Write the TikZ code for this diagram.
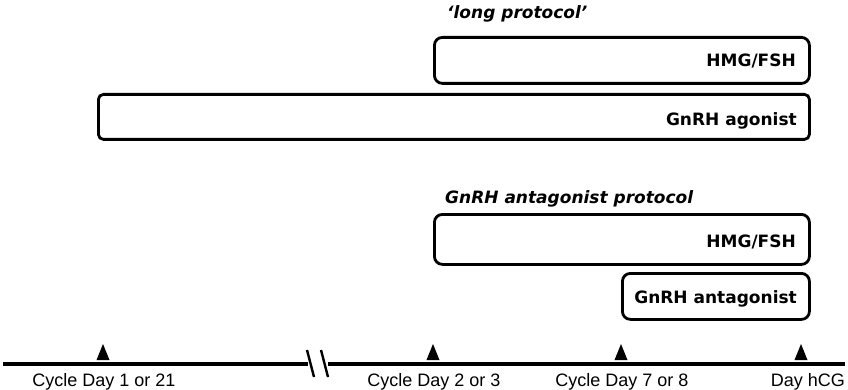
\documentclass[tikz,border=0pt]{standalone}
\usepackage{fontspec}
\setmainfont{DejaVu Sans}
\newfontfamily\axisfont{Liberation Sans}
\begin{document}
\begin{tikzpicture}[x=1pt,y=-1pt,
  box/.style={draw=black, line width=2.8pt, fill=white, anchor=north west, inner sep=0pt},
  boxlabel/.style={font=\fontsize{17}{20}\selectfont\bfseries, anchor=base east, inner sep=0pt},
  title/.style={font=\fontsize{17}{20}\selectfont\bfseries\itshape, anchor=base west, inner sep=0pt},
  daylabel/.style={font=\axisfont\fontsize{18}{21}\selectfont, anchor=base, inner sep=0pt},
  axis/.style={line width=3.2pt},
  tickmark/.pic={\fill (-6.5,-4) -- (6.5,-4) -- (0,-20) -- cycle;}
]
\useasboundingbox (0,0) rectangle (848,390);

% long protocol
\node[title] (t1) at (447,19) {‘long protocol’};
\node[box, rounded corners=8pt, minimum width=375pt, minimum height=46pt] (hmgA) at (433,36) {};
\node[boxlabel] (hmgAl) at (796,67) {HMG/FSH};
\node[box, rounded corners=5pt, minimum width=711pt, minimum height=45pt] (agon) at (97,93) {};
\node[boxlabel] (agonl) at (797,126) {GnRH agonist};

% antagonist protocol
\node[title] (t2) at (445,204) {GnRH antagonist protocol};
\node[box, rounded corners=8pt, minimum width=375pt, minimum height=50pt] (hmgB) at (433,213) {};
\node[boxlabel] (hmgBl) at (796,247) {HMG/FSH};
\node[box, rounded corners=8pt, minimum width=187pt, minimum height=46pt] (antag) at (621,272) {};
\node[boxlabel] (antagl) at (797,303) {GnRH antagonist};

% time axis with break
\coordinate (a0) at (3,364);
\coordinate (a1) at (308,364);
\coordinate (a2) at (328,364);
\coordinate (a3) at (845,364);
\draw[axis] (a0) -- (a1);
\draw[axis] (a2) -- (a3);
\coordinate (s1a) at (307,350);
\coordinate (s1b) at (314,377);
\coordinate (s2a) at (321,350);
\coordinate (s2b) at (328,377);
\draw[line width=2.4pt] (s1a) -- (s1b);
\draw[line width=2.4pt] (s2a) -- (s2b);

% day markers
\coordinate (d1) at (103,364);
\coordinate (d2) at (433,364);
\coordinate (d3) at (621,364);
\coordinate (d4) at (801,364);
\pic at (d1) {tickmark};
\pic at (d2) {tickmark};
\pic at (d3) {tickmark};
\pic at (d4) {tickmark};

\node[daylabel] (l1) at (104,386) {Cycle Day 1 or 21};
\node[daylabel] (l2) at (434,386) {Cycle Day 2 or 3};
\node[daylabel] (l3) at (622,386) {Cycle Day 7 or 8};
\node[daylabel, anchor=base east] (l4) at (845,386) {Day hCG};
\end{tikzpicture}
\end{document}
